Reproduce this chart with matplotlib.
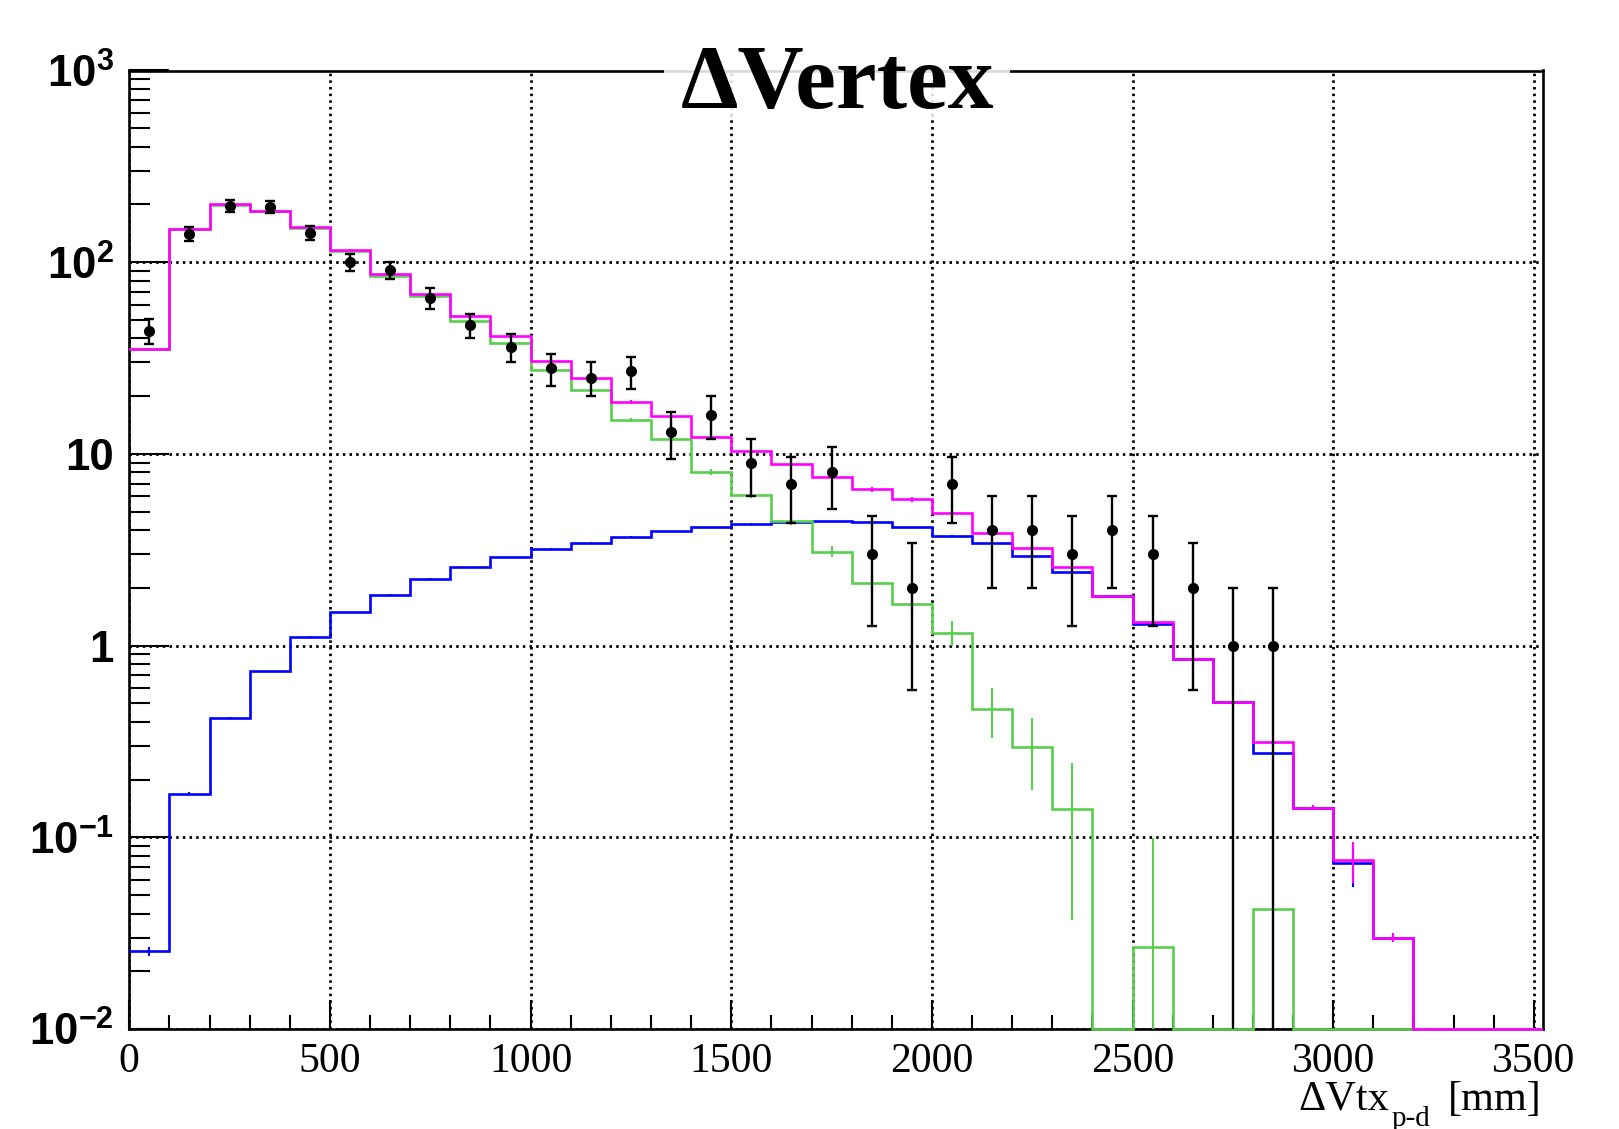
import numpy as np
import matplotlib
matplotlib.use('Agg')
import matplotlib.pyplot as plt
from matplotlib.patches import Rectangle
from matplotlib.ticker import FixedLocator, LogLocator, MultipleLocator, NullFormatter

plt.rcParams['mathtext.fontset'] = 'custom'
plt.rcParams['mathtext.rm'] = 'Liberation Sans:bold'
plt.rcParams['mathtext.it'] = 'Liberation Sans:bold'
plt.rcParams['mathtext.bf'] = 'Liberation Sans:bold'

# 100 mm bins, 0 - 3600 mm
bin_edges = np.arange(0, 3700, 100)
centers = 0.5 * (bin_edges[:-1] + bin_edges[1:])

# MC total (signal + background)
mc_total = [35.2, 149, 200, 186, 152, 115.5, 86.5, 68.4, 52.2, 41.1,
            30.6, 25.0, 18.7, 15.85, 12.2, 10.4, 8.9, 7.59, 6.55, 5.8,
            4.92, 3.88, 3.22, 2.56, 1.81, 1.32, 0.85, 0.506, 0.316, 0.143,
            0.076, 0.030, 0, 0, 0, 0]
mc_total_err = [0.6, 1.2, 1.4, 1.3, 1.2, 1.0, 0.9, 0.8, 0.7, 0.6,
                0.5, 0.45, 0.4, 0.35, 0.3, 0.22, 0.2, 0.2, 0.2, 0.19,
                0.17, 0.135, 0.12, 0.104, 0.015, 0.073, 0.008, 0.006, 0.038, 0.004,
                0.018, 0.0015, 0, 0, 0, 0]

# background MC
mc_bkg = [0.0255, 0.169, 0.421, 0.735, 1.11, 1.49, 1.84, 2.23, 2.57, 2.89,
          3.2, 3.44, 3.70, 3.94, 4.16, 4.33, 4.43, 4.47, 4.42, 4.16,
          3.74, 3.41, 2.92, 2.41, 1.81, 1.30, 0.85, 0.506, 0.275, 0.143,
          0.0733, 0.030, 0, 0, 0, 0]
mc_bkg_err = [0.0014, 0.003, 0.005, 0.006, 0.008, 0.01, 0.01, 0.012, 0.012, 0.013,
              0.014, 0.014, 0.015, 0.015, 0.016, 0.016, 0.016, 0.016, 0.016, 0.016,
              0.015, 0.015, 0.014, 0.013, 0.012, 0.01, 0.008, 0.006, 0.005, 0.004,
              0.018, 0.0015, 0, 0, 0, 0]

# signal MC
mc_sig = [35.2, 148.8, 199.6, 185.3, 150.9, 114.0, 84.6, 66.8, 49.6, 38.1,
          27.4, 21.6, 15.0, 11.9, 8.05, 6.14, 4.45, 3.09, 2.12, 1.65,
          1.17, 0.465, 0.297, 0.141, 0, 0.0267, 0, 0, 0.0425, 0,
          0, 0, 0, 0, 0, 0]
mc_sig_err = [0.6, 1.2, 1.4, 1.3, 1.2, 1.0, 0.9, 0.8, 0.7, 0.6,
              0.5, 0.45, 0.4, 0.35, 0.3, 0.22, 0.2, 0.2, 0.2, 0.19,
              0.17, 0.135, 0.12, 0.104, 0, 0.073, 0, 0, 0.0385, 0,
              0, 0, 0, 0, 0, 0]

# data counts per bin (Poisson errors)
data_counts = [44, 141, 197, 194, 142, 100, 91, 65, 47, 36,
               28, 25, 27, 13, 16, 9, 7, 8, 3, 2,
               7, 4, 4, 3, 4, 3, 2, 1, 1]

x_ticks = [0, 500, 1000, 1500, 2000, 2500, 3000, 3500]
y_ticks = [1e-2, 1e-1, 1, 10, 1e2, 1e3]
y_labels = [r'$10^{-2}$', r'$10^{-1}$', '1', '10', r'$10^{2}$', r'$10^{3}$']

Y_MIN, Y_MAX = 1e-2, 1e3
X_MAX = 3522

W, H = 1619, 1129
fig = plt.figure(figsize=(W / 100, H / 100), dpi=100)
ax_l, ax_r, ax_t, ax_b = 129.3, 1542.7, 70.5, 1029.0
ax = fig.add_axes([ax_l / W, 1 - ax_b / H, (ax_r - ax_l) / W, (ax_b - ax_t) / H])

ax.set_yscale('log')
ax.set_xlim(0, X_MAX)
ax.set_ylim(Y_MIN, Y_MAX)

# lets empty bins sit on top of the bottom frame line
clip_rect = Rectangle((0, -0.01), 1, 1.01, transform=ax.transAxes)


def draw_hist(values, errors, color, z):
    vals = np.asarray(values, float)
    errs = np.asarray(errors, float)
    shown = np.where(vals > 0, vals, Y_MIN)
    st = ax.stairs(shown, bin_edges, color=color, lw=1.9, baseline=None, zorder=z)
    st.set_clip_path(clip_rect)
    ok = vals > 0
    ax.errorbar(centers[ok], vals[ok], yerr=errs[ok], fmt='none',
                ecolor=color, elinewidth=1.5, capsize=0, zorder=z)


draw_hist(mc_bkg, mc_bkg_err, '#0000ff', 3)
draw_hist(mc_sig, mc_sig_err, '#58cf4c', 3.1)
draw_hist(mc_total, mc_total_err, '#ff00ff', 3.2)

counts = np.asarray(data_counts, float)
ax.errorbar(centers[:len(counts)], counts, yerr=np.sqrt(counts), fmt='o',
            color='black', ms=7, elinewidth=1.7, capsize=3.6, capthick=1.7,
            zorder=6)

# ticks and grid
ax.xaxis.set_major_locator(FixedLocator(x_ticks))
ax.xaxis.set_minor_locator(MultipleLocator(100))
ax.set_xticklabels([str(v) for v in x_ticks])
ax.set_yticks(y_ticks, y_labels)
ax.yaxis.set_minor_locator(LogLocator(base=10, subs=np.arange(2, 10)))
ax.yaxis.set_minor_formatter(NullFormatter())

ax.tick_params(axis='x', which='major', direction='in', length=21, width=1.5,
               pad=9.4, labelsize=30, top=False)
ax.tick_params(axis='x', which='minor', direction='in', length=10.3, width=1.5,
               top=False)
ax.tick_params(axis='y', which='major', direction='in', length=29, width=1.5,
               pad=11, labelsize=31.5, right=False)
ax.tick_params(axis='y', which='minor', direction='in', length=15, width=1.5,
               right=False)
for lab in ax.get_xticklabels():
    lab.set_fontfamily('Liberation Serif')
for lab in ax.get_yticklabels():
    lab.set_fontfamily('Liberation Sans')
    lab.set_fontweight('bold')

ax.set_axisbelow(True)
ax.grid(True, which='major', color='black', lw=2.0, linestyle=(0, (0.9, 1.5)))
for sp in ax.spines.values():
    sp.set_linewidth(1.9)

# axis title built from pieces (subscript in a smaller size)
fig.text(1389 / W, 1 - 1110 / H, '\u0394Vtx', ha='right', va='baseline',
         fontsize=30.5, family='Liberation Serif')
fig.text(1392 / W, 1 - 1126 / H, 'p-d', ha='left', va='baseline',
         fontsize=21, family='Liberation Serif')
fig.text(1542 / W, 1 - 1110 / H, '[mm]', ha='right', va='baseline',
         fontsize=30.5, family='Liberation Serif')

# title with its semi-transparent box over the frame
fig.add_artist(Rectangle((664 / W, 1 - 116 / H), (1010 - 664) / W, (116 - 36) / H,
                         transform=fig.transFigure, facecolor='white',
                         edgecolor='none', alpha=0.85, zorder=5))
fig.text(838 / W, 1 - 108 / H, '\u0394Vertex', ha='center', va='baseline',
         fontsize=66, fontweight='bold', family='Liberation Serif', zorder=6)

fig.savefig('out.png', dpi=100)
